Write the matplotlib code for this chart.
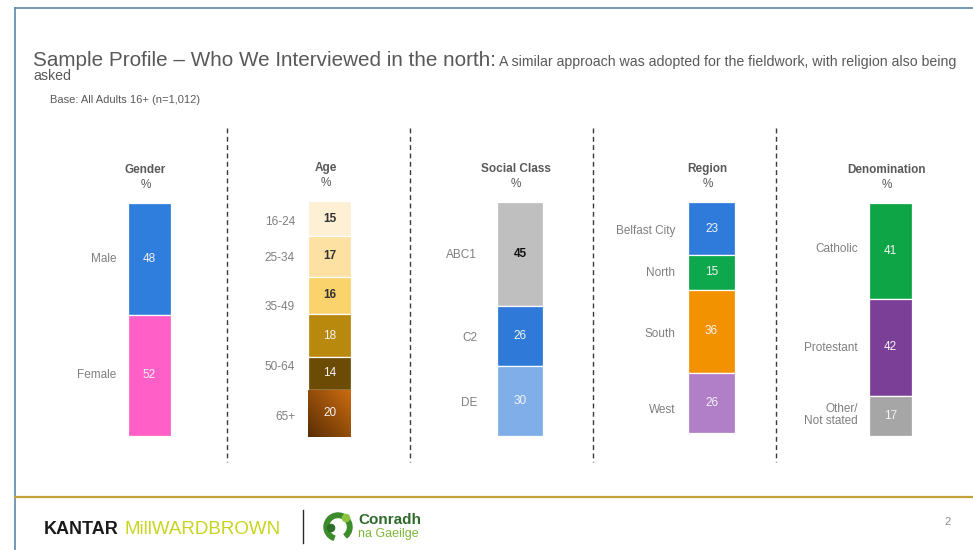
import matplotlib
matplotlib.use("Agg")
import matplotlib.pyplot as plt
import numpy as np
from matplotlib import font_manager
from matplotlib.colors import LinearSegmentedColormap
from matplotlib.patches import Circle, Wedge

plt.rcParams['font.family'] = ['Liberation Sans', 'DejaVu Sans']

W, H = 973, 550

# sample profile, % of all adults 16+ (n=1,012)
gender_labels = ['Male', 'Female']
gender_values = [48, 52]
age_labels = ['16-24', '25-34', '35-49', '', '50-64', '65+']
age_values = [15, 17, 16, 18, 14, 20]
class_labels = ['ABC1', 'C2', 'DE']
class_values = [45, 26, 30]
region_labels = ['Belfast City', 'North', 'South', 'West']
region_values = [23, 15, 36, 26]
denom_labels = ['Catholic', 'Protestant', 'Other/\nNot stated']
denom_values = [41, 42, 17]

DARK = '#333333'
LIGHT = '#F4F4F4'

# box = bar rectangle in pixels (left, top, right, bottom)
# nudge = label shift in pixels, positive moves it down
panels = [
    dict(title='Gender', labels=gender_labels, values=gender_values,
         colors=['#2F7DDC', '#FF5FC6'], text=[LIGHT, LIGHT],
         box=(128, 203, 171, 436), gap=12, nudge=[0, 0]),
    dict(title='Age', labels=age_labels, values=age_values,
         colors=['#FDF0D4', '#FCE1A2', '#FAD36C', '#B9890D', '#6C4B04', '#A4540B'],
         text=[DARK, DARK, DARK, LIGHT, LIGHT, LIGHT],
         box=(308, 201, 351, 437), gap=13, nudge=[3, 2, 12, 0, -6, 4]),
    dict(title='Social Class', labels=class_labels, values=class_values,
         colors=['#BFBFBF', '#2F7AD9', '#80AEE9'], text=['#111111', LIGHT, LIGHT],
         box=(497, 202, 543, 436), gap=20, nudge=[1, 2, 2]),
    dict(title='Region', labels=region_labels, values=region_values,
         colors=['#2F7BDB', '#0CA84B', '#F39200', '#B07FC7'], text=[LIGHT] * 4,
         box=(688, 202, 735, 433), gap=13, nudge=[2, 1, 3, 7]),
    dict(title='Denomination', labels=denom_labels, values=denom_values,
         colors=['#0DA546', '#7B3F98', '#A6A6A6'], text=[LIGHT] * 3,
         box=(869, 203, 912, 436), gap=11, nudge=[-2, 1, -1]),
]
separators = [227, 410, 593, 776]


def fig_box(l, t, r, b):
    return [l / W, 1 - b / H, (r - l) / W, (b - t) / H]


fig = plt.figure(figsize=(W / 100, H / 100), dpi=100)
fig.patch.set_facecolor('white')

# pixel-space overlay for the slide furniture
deco = fig.add_axes([0, 0, 1, 1], zorder=-1)
deco.set_xlim(0, W)
deco.set_ylim(H, 0)
deco.axis('off')

deco.plot([15, W], [8, 8], color='#5E88AD', lw=1.2)
deco.plot([15, 15], [8, H], color='#5E88AD', lw=1.2)
deco.plot([15, W], [497, 497], color='#C3A23C', lw=1.6)
for x in separators:
    deco.plot([x, x], [128, 462], color='#3A3A3A', lw=1, linestyle=(0, (3.5, 2.5)))

# stacked bars, one axes per panel
for p in panels:
    ax = fig.add_axes(fig_box(*p['box']))
    vals = np.array(p['values'])
    bottoms = np.concatenate([[0], np.cumsum(vals)[:-1]])
    bars = ax.bar(0.5, vals, width=1, bottom=bottoms, color=p['colors'],
                  edgecolor='white', linewidth=0.9)
    if p['title'] == 'Age':
        # oldest band shades from dark brown (bottom left) to orange (top right)
        last = bars[-1]
        x0, y0 = last.get_x(), last.get_y()
        w, h = last.get_width(), last.get_height()
        gx, gy = np.meshgrid(np.linspace(0, 1, 60), np.linspace(0, 1, 60))
        grad = ((1 - gx) + gy) / 2
        cmap = LinearSegmentedColormap.from_list('brown', ['#CC6C10', '#5A2E04'])
        im = ax.imshow(grad, extent=[x0, x0 + w, y0 + h, y0], cmap=cmap,
                       aspect='auto', zorder=last.get_zorder() + 0.1)
        im.set_clip_path(last)
    ax.set_xlim(0, 1)
    ax.set_ylim(vals.sum(), 0)
    ax.axis('off')

    for bar, lab, v, tc, dy in zip(bars, p['labels'], vals, p['text'], p['nudge']):
        yc = bar.get_y() + bar.get_height() / 2
        ax.text(0.5, yc, str(v), ha='center', va='center', color=tc,
                fontsize=8.5, fontweight='bold' if tc != LIGHT else 'normal', zorder=5)
        if lab:
            ax.annotate(lab, xy=(0, yc), xytext=(-p['gap'], -dy),
                        textcoords='offset pixels', ha='right', va='center',
                        color='#7F7F7F', fontsize=8.5, linespacing=0.95,
                        annotation_clip=False)

    ax.annotate(p['title'], xy=(0.5, 1), xycoords='axes fraction', xytext=(-4, 33),
                textcoords='offset pixels', ha='center', va='center',
                color='#595959', fontsize=8.5, fontweight='bold')
    ax.annotate('%', xy=(0.5, 1), xycoords='axes fraction', xytext=(-4, 18),
                textcoords='offset pixels', ha='center', va='center',
                color='#595959', fontsize=8.5)

# heading
title_txt = 'Sample Profile \u2013 Who We Interviewed in the north:'
sub_txt = 'A similar approach was adopted for the fieldwork, with religion also being'
try:
    font_manager.findfont('Liberation Sans Narrow', fallback_to_default=False)
    narrow = ['Liberation Sans Narrow', 'Liberation Sans']
except ValueError:
    narrow = ['Liberation Sans']

title = fig.text(33 / W, 1 - 66 / H, title_txt, fontsize=15, color='#595959',
                 va='baseline', ha='left')
fig.canvas.draw()
renderer = fig.canvas.get_renderer()
tw = title.get_window_extent(renderer).width
title.set_fontsize(15 * (497 - 33) / tw)
fig.canvas.draw()
tend = title.get_window_extent(renderer).x1

sub = fig.text((tend + 3) / W, 1 - 66 / H, sub_txt, fontsize=9, color='#595959',
               va='baseline', ha='left', family=narrow)
fig.canvas.draw()
sw = sub.get_window_extent(renderer).width
sub_size = 9 * (958 - tend - 3) / sw
sub.set_fontsize(sub_size)
fig.text(33 / W, 1 - 80 / H, 'asked', fontsize=sub_size, color='#595959',
         va='baseline', ha='left', family=narrow)
fig.text(50 / W, 1 - 100 / H, 'Base: All Adults 16+ (n=1,012)', fontsize=8,
         color='#595959', va='center', ha='left')

# footer logos
deco.text(44, 529, 'KANTAR', fontsize=13, fontweight='bold', color='#1A1A1A',
          va='center', ha='left')
deco.text(125, 529, 'MillWARDBROWN', fontsize=13.5, color='#C8D41E',
          va='center', ha='left')
deco.plot([303, 303], [510, 543], color='#2A2A2A', lw=1)
deco.add_patch(Wedge((338, 527), 14, 110, 410, width=4.5, color='#3C8C2C'))
deco.add_patch(Circle((331, 528), 3.6, color='#2F6E25'))
deco.add_patch(Circle((346, 518), 3.6, color='#8CC63F'))
deco.text(358, 520, 'Conradh', fontsize=11, fontweight='bold', color='#2F6A2C',
          va='center', ha='left')
deco.text(358, 534, 'na Gaeilge', fontsize=9, color='#7DB83A',
          va='center', ha='left')
deco.text(948, 522, '2', fontsize=8, color='#8C8C8C', va='center', ha='center')

fig.savefig('out.png', dpi=100, facecolor='white')
